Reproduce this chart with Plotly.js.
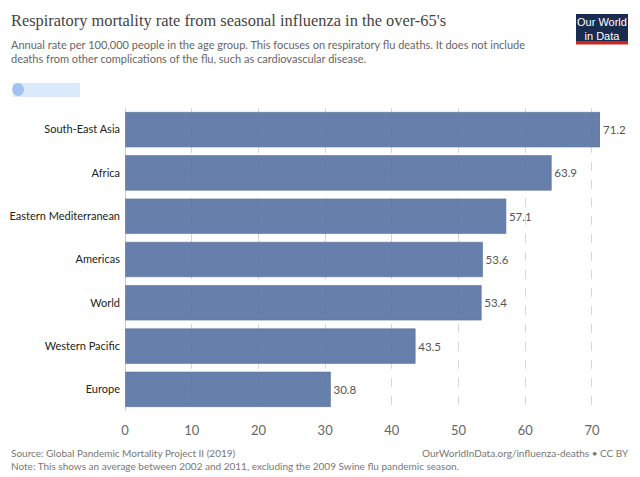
<!DOCTYPE html>
<html><head><meta charset="utf-8">
<script src="https://cdn.plot.ly/plotly-3.0.1.min.js"></script>
<style>html,body{margin:0;padding:0;background:#fff}#c{width:640px;height:477px}</style>
</head><body><div id="c"></div>
<script>
const categories = ["South-East Asia","Africa","Eastern Mediterranean","Americas","World","Western Pacific","Europe"];
const rates = [71.2, 63.9, 57.1, 53.6, 53.4, 43.5, 30.8];
const tickVals = [0,10,20,30,40,50,60,70];

const L=125, R=600, T=108, B=411;
const W=640, H=477;
const px = x => (x-L)/(R-L);
const py = y => (B-y)/(B-T);

const trace = {
  type:'bar', orientation:'h',
  y: categories, x: rates,
  marker:{color:'#5b76a4', opacity:0.92, line:{color:'#4d6796', width:0.6}},
  text: rates.map(v=>v.toFixed(1)), textposition:'outside',
  textfont:{family:'Lato, sans-serif', size:11.5, color:'#555'},
  cliponaxis:false, hoverinfo:'skip'
};

const layout = {
  width:W, height:H,
  margin:{l:L, r:W-R, t:T, b:H-B, pad:0},
  paper_bgcolor:'#fff', plot_bgcolor:'#fff',
  bargap:0.2, showlegend:false,
  xaxis:{range:[0,71.2], tickvals:tickVals, ticks:'', showgrid:true,
    gridcolor:'#d6d6d6', griddash:'dash', gridwidth:1, zeroline:false, showline:false,
    tickfont:{family:'Lato, sans-serif', size:13, color:'#666'}, ticklabelstandoff:10, fixedrange:true},
  yaxis:{autorange:'reversed', showgrid:false, zeroline:false, showline:false, ticks:'',
    ticklabelstandoff:4,
    tickfont:{family:'Lato, sans-serif', size:11, color:'#222'}, fixedrange:true},
  shapes:[
    {type:'line', xref:'x', yref:'paper', x0:0, x1:0, y0:0, y1:1, line:{color:'#999', width:1}},
    {type:'rect', xref:'paper', yref:'paper', x0:px(576), x1:px(628), y0:py(14), y1:py(44), fillcolor:'#1a2b50', line:{width:0}},
    {type:'rect', xref:'paper', yref:'paper', x0:px(576), x1:px(628), y0:py(41), y1:py(44.5), fillcolor:'#ce261e', line:{width:0}},
    {type:'rect', xref:'paper', yref:'paper', x0:px(13), x1:px(80), y0:py(83), y1:py(97), fillcolor:'rgba(195,220,248,0.6)', line:{width:0}},
    {type:'circle', xref:'paper', yref:'paper', x0:px(12), x1:px(24), y0:py(83), y1:py(96), fillcolor:'rgba(120,170,235,0.6)', line:{width:0}}
  ],
  annotations:[
    {xref:'paper', yref:'paper', x:px(9), y:py(21), xanchor:'left', yanchor:'middle', showarrow:false,
     text:'Respiratory mortality rate from seasonal influenza in the over-65\'s',
     font:{family:'Liberation Serif, serif', size:16.4, color:'#444'}},
    {xref:'paper', yref:'paper', x:px(9), y:py(51), xanchor:'left', yanchor:'middle', showarrow:false, align:'left',
     text:'Annual rate per 100,000 people in the age group. This focuses on respiratory flu deaths. It does not include<br>deaths from other complications of the flu, such as cardiovascular disease.',
     font:{family:'Lato, sans-serif', size:11, color:'#666'}},
    {xref:'paper', yref:'paper', x:px(602), y:py(28.5), xanchor:'center', yanchor:'middle', showarrow:false, align:'center',
     text:'Our World<br>in Data', font:{family:'Arial, Liberation Sans, sans-serif', size:11, color:'#fff'}},
    {xref:'paper', yref:'paper', x:px(9), y:py(453), xanchor:'left', yanchor:'middle', showarrow:false,
     text:'Source: Global Pandemic Mortality Project II (2019)', font:{family:'Lato, sans-serif', size:10, color:'#777'}},
    {xref:'paper', yref:'paper', x:px(9), y:py(466), xanchor:'left', yanchor:'middle', showarrow:false,
     text:'Note: This shows an average between 2002 and 2011, excluding the 2009 Swine flu pandemic season.', font:{family:'Lato, sans-serif', size:10, color:'#777'}},
    {xref:'paper', yref:'paper', x:px(631), y:py(453), xanchor:'right', yanchor:'middle', showarrow:false,
     text:'OurWorldInData.org/influenza-deaths • CC BY', font:{family:'Lato, sans-serif', size:10, color:'#777'}}
  ]
};
Plotly.newPlot('c',[trace],layout,{staticPlot:true, displayModeBar:false});
</script></body></html>
